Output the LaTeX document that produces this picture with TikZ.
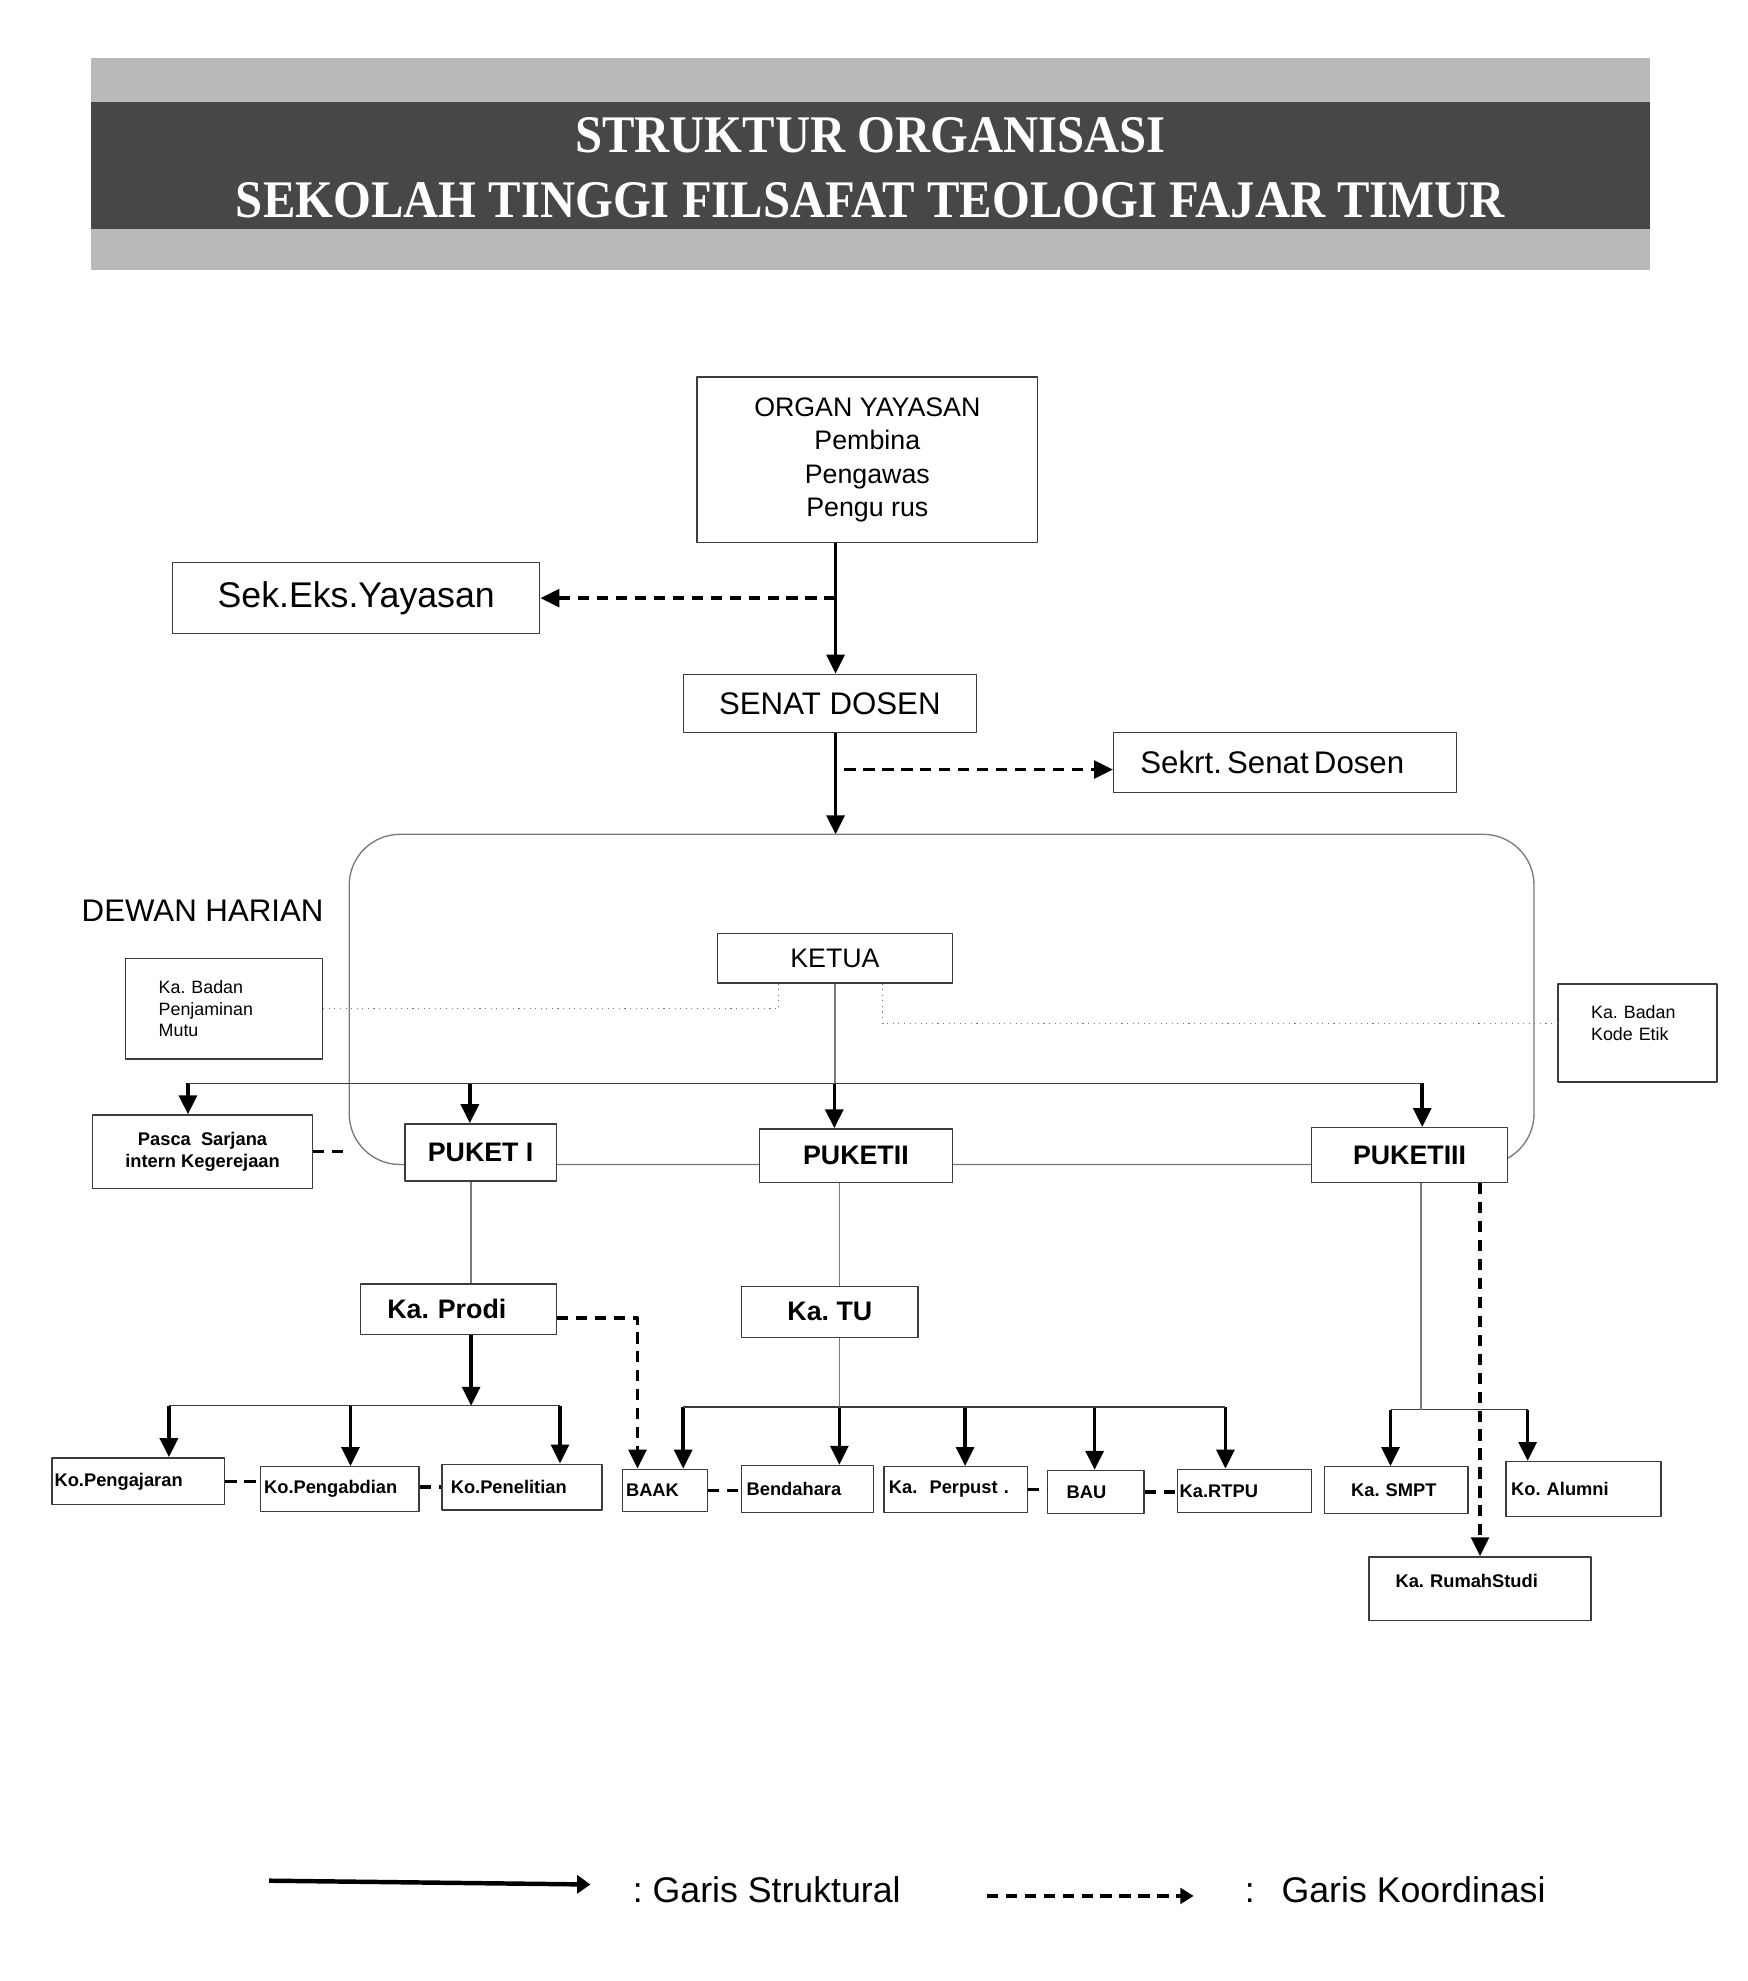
\documentclass[tikz,border=0pt]{standalone}
\usepackage{fontspec}
\setmainfont{Liberation Sans}
\newfontfamily\titlefont[FakeStretch=0.92]{Liberation Serif}
\usetikzlibrary{arrows.meta}
\definecolor{barlight}{HTML}{B9B9B9}
\definecolor{bardark}{HTML}{474747}
\definecolor{boxline}{HTML}{3C3C3C}
\definecolor{thinline}{HTML}{7A7A7A}
\newcommand{\fsz}[2]{\fontsize{#1}{#2}\selectfont}

\begin{document}
\frenchspacing
\begin{tikzpicture}[x=0.02cm,y=-0.02cm,line join=round,
  bx/.style 2 args={draw=boxline,line width=0.6pt,fill=white,inner sep=0pt,
    minimum width=#1*0.02cm,minimum height=#2*0.02cm},
  lbx/.style n args={3}{bx={#1}{#2},inner xsep=#3*0.02cm,
    text width=(#1-2*#3)*0.02cm,align=left},
  str/.style={line width=1.6pt,-{Triangle[length=8.5pt,width=8pt]}},
  crd/.style={line width=1.5pt,dash pattern=on 5pt off 3.5pt},
  crda/.style={crd,-{Triangle[length=8.5pt,width=8pt]}},
  thn/.style={draw=thinline,line width=0.6pt},
  bar/.style={draw=boxline,line width=0.6pt},
  dot/.style={draw=thinline,line width=0.5pt,dotted},
  small/.style={font=\fsz{8}{9.7}},
  smallb/.style={font=\bfseries\fsz{8.2}{9.7}},
  puket/.style={font=\bfseries\fsz{12}{14}}]
  \useasboundingbox (0,0) rectangle (1376,1560);
  % judul
  \fill[barlight] (72,46) rectangle (1299,213);
  \fill[bardark] (72,80) rectangle (1299,180);
  \node[anchor=base,text=white,font=\titlefont\bfseries\fsz{23.7}{29}] (judul1) at (685.5,120) {STRUKTUR ORGANISASI};
  \node[anchor=base,text=white,font=\titlefont\bfseries\fsz{23.7}{29}] (judul2) at (685.5,171) {SEKOLAH TINGGI FILSAFAT TEOLOGI FAJAR TIMUR};
  % yayasan dan senat
  \node[bx={268}{130},align=center,font=\fsz{12}{15}] (organ) at (683,362) {ORGAN YAYASAN\\Pembina\\Pengawas\\Pengu rus};
  \node[bx={289}{56},font=\fsz{16}{19}] (sekeks) at (280.5,471) {Sek.Eks.Yayasan};
  \node[bx={231}{46},font=\fsz{14}{17}] (senat) at (653.5,554) {SENAT DOSEN};
  \node[lbx={270}{47}{21},font=\fsz{14}{17}] (sekrt) at (1012,600.5) {Sekrt.\,Senat\,Dosen};
  \coordinate (a1) at (658,471);
  \coordinate (a2) at (665,606);
  \coordinate (dh) at (658,657);
  \draw[str] (organ.south -| a1) -- (senat.north -| a1);
  \draw[crda] (a1) -- (a1 -| sekeks.east);
  \draw[str] (senat.south -| dh) -- (dh);
  \draw[crda] (a2) -- (a2 -| sekrt.west);
  % dewan harian
  \coordinate (dhtl) at (275,657);
  \coordinate (dhbr) at (1208,917);
  \draw[thn,rounded corners=0.8cm] (dhtl) rectangle (dhbr);
  \node[anchor=west,inner sep=0pt,font=\fsz{14}{17}] (dewan) at (64,717) {DEWAN HARIAN};
  \node[bx={185}{39},font=\fsz{12}{14}] (ketua) at (657.5,754.5) {KETUA};
  \node[lbx={155}{79}{26},small] (mutu) at (176.5,794.5) {Ka. Badan\\Penjaminan\\Mutu};
  \node[lbx={125}{77}{26},small,text depth=18.8pt] (etik) at (1289.5,813.5) {Ka. Badan\\Kode Etik};
  \draw[dot] (mutu.east) -| ([xshift=-0.89cm]ketua.south);
  \draw[dot] ([xshift=0.75cm]ketua.south) |- ([yshift=0.15cm]etik.west);
  \node[bx={173}{58},smallb,align=center] (pasca) at (159.5,907) {Pasca\ \ Sarjana\\intern Kegerejaan};
  \node[bx={119}{45},puket] (pk1) at (378.5,907.5) {PUKET I};
  \node[bx={152}{42},puket] (pk2) at (674,910) {PUKETII};
  \node[bx={154}{43},puket] (pk3) at (1110,909.5) {PUKETIII};
  \foreach \n/\x in {pasca/148,pk1/370,pk2/657,pk3/1120}{
    \coordinate (c\n) at (\x,853);
    \draw[str] (c\n) -- (c\n |- \n.north);
  }
  \draw[bar] (cpasca) -- (cpk3);
  \draw[thn] (ketua.south) -- (ketua.south |- cpk2);
  \draw[crd] (pasca.east) -- (pasca.east -| dhtl);
  % puket I
  \node[lbx={154}{40}{21},puket] (prodi) at (361,1031) {Ka. Prodi};
  \node[lbx={136}{37}{2},smallb] (ajar) at (109,1166.5) {Ko.Pengajaran};
  \node[lbx={125}{35}{3},smallb] (abdi) at (267.5,1172.5) {Ko.Pengabdian};
  \node[lbx={126}{36}{7},smallb] (teliti) at (411,1171) {Ko.Penelitian};
  \coordinate (p0) at (371,1107);
  \draw[thn] (pk1.south -| p0) -- (prodi.north -| p0);
  \draw[str] (prodi.south -| p0) -- (p0);
  \foreach \n/\x in {ajar/133,abdi/276,teliti/441}{
    \coordinate (c\n) at (\x,1107);
    \draw[str] (c\n) -- (c\n |- \n.north);
  }
  \draw[bar] (cajar) -- (cteliti);
  \draw[crd] (ajar.east) -- (ajar.east -| abdi.west);
  \draw[crd] (teliti.west -| abdi.east) -- (teliti.west);
  % puket II
  \node[bx={139}{40},puket] (katu) at (653.5,1033) {Ka. TU};
  \node[lbx={67}{33}{3},smallb] (baak) at (523.5,1173.5) {BAAK};
  \node[lbx={104}{37}{4},smallb] (benda) at (636,1172.5) {Bendahara};
  \node[lbx={113}{36}{4},smallb] (perpus) at (752.5,1173) {Ka.\ \ Perpust .};
  \node[lbx={76}{34}{15},smallb] (bau) at (863,1175) {BAU};
  \node[lbx={106}{34}{2},smallb] (rtpu) at (980,1174) {Ka.RTPU};
  \foreach \n/\x in {baak/538,benda/661,perpus/760,bau/862,rtpu/965}{
    \coordinate (c\n) at (\x,1108);
    \draw[str] (c\n) -- (c\n |- \n.north);
  }
  \draw[bar] (cbaak) -- (crtpu);
  \draw[thn] (pk2.south -| cbenda) -- (katu.north -| cbenda);
  \draw[thn] (katu.south -| cbenda) -- (cbenda);
  \draw[crda] ([yshift=-0.14cm]prodi.east) -| ([xshift=-0.43cm]baak.north);
  \draw[crd] (baak.east) -- (baak.east -| benda.west);
  \draw[crd] (perpus.east) -- (perpus.east -| bau.west);
  \draw[crd] (bau.east) -- (bau.east -| rtpu.west);
  % puket III
  \node[lbx={113}{37}{21},smallb] (smpt) at (1099.5,1173.5) {Ka. SMPT};
  \node[lbx={122}{43}{4},smallb] (alumni) at (1247,1172.5) {Ko. Alumni};
  \node[lbx={175}{50}{21},smallb,text depth=6.8pt] (rumah) at (1165.5,1251) {Ka. RumahStudi};
  \foreach \n/\x in {smpt/1095,alumni/1203}{
    \coordinate (c\n) at (\x,1110);
    \draw[str] (c\n) -- (c\n |- \n.north);
  }
  \draw[bar] (csmpt) -- (calumni);
  \coordinate (q0) at (1119,1110);
  \draw[thn] (pk3.south -| q0) -- (q0);
  \draw[crda] (rumah.north |- pk3.south) -- (rumah.north);
  % keterangan
  \coordinate (l1) at (212,1481);
  \coordinate (l2) at (465,1484);
  \coordinate (l3) at (777,1493);
  \coordinate (l4) at (940,1493);
  \draw[line width=2pt,-{Triangle[length=6pt,width=8pt]}] (l1) -- (l2);
  \draw[crd,-{Triangle[length=6pt,width=7pt]}] (l3) -- (l4);
  \node[anchor=west,inner sep=0pt,font=\fsz{16}{19}] (ketstr) at (498,1488) {: Garis Struktural};
  \node[anchor=west,inner sep=0pt,font=\fsz{16}{19}] (ketkrd) at (980,1488) {:\hspace{0.75em}Garis Koordinasi};
\end{tikzpicture}
\end{document}
